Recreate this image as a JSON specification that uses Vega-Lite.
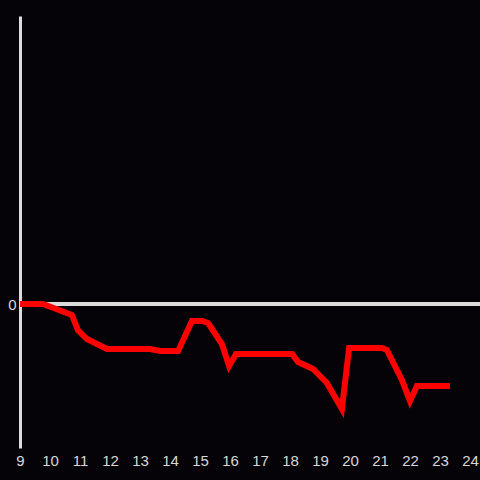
{
  "$schema": "https://vega.github.io/schema/vega-lite/v6.json",
  "autosize": {"type": "none"},
  "width": 460,
  "height": 432,
  "padding": {"left": 20, "top": 16, "right": 0, "bottom": 32},
  "background": "#050307",
  "config": {
    "view": {"stroke": null},
    "axis": {"grid": false, "ticks": false, "labelFont": "Liberation Sans", "labelFontSize": 15, "labelColor": "#d8d8d8"}
  },
  "data": {"values": [
    {"x": 9.0, "y": 0},
    {"x": 9.77, "y": 0},
    {"x": 10.73, "y": -11},
    {"x": 10.93, "y": -26},
    {"x": 11.23, "y": -35},
    {"x": 11.9, "y": -45},
    {"x": 13.33, "y": -45},
    {"x": 13.67, "y": -47},
    {"x": 14.27, "y": -47},
    {"x": 14.73, "y": -17},
    {"x": 15.07, "y": -17},
    {"x": 15.27, "y": -19},
    {"x": 15.73, "y": -40},
    {"x": 15.97, "y": -62},
    {"x": 16.2, "y": -50},
    {"x": 18.07, "y": -50},
    {"x": 18.27, "y": -58},
    {"x": 18.77, "y": -65},
    {"x": 19.23, "y": -79},
    {"x": 19.73, "y": -105},
    {"x": 19.97, "y": -44},
    {"x": 21.07, "y": -44},
    {"x": 21.23, "y": -46},
    {"x": 21.73, "y": -76},
    {"x": 22.0, "y": -97},
    {"x": 22.23, "y": -82},
    {"x": 23.33, "y": -82}
  ]},
  "layer": [
    {
      "mark": {"type": "rule", "color": "#dcdcdc", "strokeWidth": 3},
      "encoding": {"y": {"datum": 0, "type": "quantitative", "scale": {"domain": [-144, 288], "nice": false, "zero": false}}}
    },
    {
      "mark": {"type": "line", "color": "#ff0000", "strokeWidth": 6, "strokeJoin": "miter"},
      "encoding": {
        "x": {"field": "x", "type": "quantitative", "scale": {"domain": [9, 24.3333], "nice": false, "zero": false},
              "axis": {"title": null, "values": [9,10,11,12,13,14,15,16,17,18,19,20,21,22,23,24], "domain": false, "labelPadding": 5, "labelFlush": false}},
        "y": {"field": "y", "type": "quantitative", "scale": {"domain": [-144, 288], "nice": false, "zero": false},
              "axis": {"title": null, "values": [0], "domain": true, "domainColor": "#dcdcdc", "domainWidth": 3, "labelPadding": 4}}
      }
    }
  ]
}
